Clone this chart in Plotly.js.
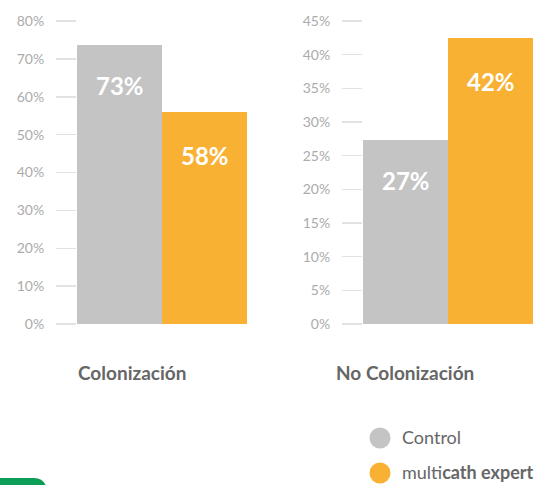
<!DOCTYPE html>
<html>
<head>
<meta charset="utf-8">
<script src="https://cdn.plot.ly/plotly-3.0.1.min.js"></script>
<style>html,body{margin:0;padding:0;background:#fff;}#chart{width:552px;height:485px;}</style>
</head>
<body>
<div id="chart"></div>
<script>
// Data
const groups = ["Colonización", "No Colonización"];
const seriesNames = ["Control", "multi<b>cath expert</b>"];
const controlValues = [73.7, 27.4];
const expertValues = [56.0, 42.5];
const controlLabels = ["73%", "27%"];
const expertLabels = ["58%", "42%"];
const leftTicks = [0, 10, 20, 30, 40, 50, 60, 70, 80];
const leftTickText = ["0%", "10%", "20%", "30%", "40%", "50%", "60%", "70%", "80%"];
const rightTicks = [0, 5, 10, 15, 20, 25, 30, 35, 40, 45];
const rightTickText = ["0%", "5%", "10%", "15%", "20%", "25%", "30%", "35%", "40%", "45%"];

const grey = "#c4c4c4";
const orange = "#f8b133";
const seriesColors = [grey, orange];
const FONT = "Lato, 'Open Sans', sans-serif";

const W = 552, H = 485, MT = 21, MB = 161;
const plotH = H - MT - MB;
const px2x = px => px / W;
const py2y = py => (H - MB - py) / plotH;

const axesX = ["x", "x2"];
const axesY = ["y", "y2"];

const traces = [];
groups.forEach((g, i) => {
  traces.push({
    type: "bar", x: [g], y: [controlValues[i]], xaxis: axesX[i], yaxis: axesY[i],
    marker: {color: grey}, name: seriesNames[0], showlegend: false, hoverinfo: "skip"
  });
  traces.push({
    type: "bar", x: [g], y: [expertValues[i]], xaxis: axesX[i], yaxis: axesY[i],
    marker: {color: orange}, name: seriesNames[1], showlegend: false, hoverinfo: "skip"
  });
});

const annotations = [];
groups.forEach((g, i) => {
  annotations.push({xref: axesX[i], yref: axesY[i], x: g, y: controlValues[i], xshift: -42.5, yshift: -41,
    text: "<b>" + controlLabels[i] + "</b>", showarrow: false, yanchor: "middle",
    font: {family: FONT, size: 24, color: "#ffffff"}});
  annotations.push({xref: axesX[i], yref: axesY[i], x: g, y: expertValues[i], xshift: 42.5, yshift: -44,
    text: "<b>" + expertLabels[i] + "</b>", showarrow: false, yanchor: "middle",
    font: {family: FONT, size: 24, color: "#ffffff"}});
  annotations.push({xref: axesX[i], yref: "paper", x: g, y: py2y(372), xshift: -30 - (i === 1 ? 13 : 0),
    text: "<b>" + g + "</b>", showarrow: false, yanchor: "middle",
    font: {family: FONT, size: 19, color: "#666666"}});
});

// Manual legend (circle markers + text)
const shapes = [];
const legendY = [438, 473];
seriesNames.forEach((n, k) => {
  const cy = legendY[k];
  shapes.push({type: "circle", xref: "paper", yref: "paper",
    x0: px2x(369.5), x1: px2x(390.5), y0: py2y(cy + 10.5), y1: py2y(cy - 10.5),
    fillcolor: seriesColors[k], line: {width: 0}});
  annotations.push({xref: "paper", yref: "paper", x: px2x(401), y: py2y(cy - 1), xanchor: "left", yanchor: "middle",
    borderpad: 0,
    text: n, showarrow: false, font: {family: FONT, size: 18, color: "#666666"}});
});
// green tab partially visible at bottom left
shapes.push({type: "path", xref: "paper", yref: "paper",
  path: "M 0 " + py2y(486) + " L 0 " + py2y(478) + " L " + px2x(34) + " " + py2y(478) +
        " Q " + px2x(43) + " " + py2y(478) + " " + px2x(46) + " " + py2y(486) + " Z",
  fillcolor: "#0c9d56", line: {width: 0}});

const yaxisBase = {
  showgrid: false, zeroline: false, showline: false,
  ticks: "outside", ticklen: 20, tickcolor: "#e2e2e2", tickwidth: 1.5,
  ticklabelstandoff: 9,
  tickfont: {family: FONT, size: 14, color: "#ababab"},
  fixedrange: true
};
const xaxisBase = {showgrid: false, zeroline: false, showline: false, showticklabels: false, ticks: "",
  fixedrange: true, range: [-0.5, 0.5], autorange: false};

const layout = {
  width: W, height: H,
  margin: {l: 0, r: 0, t: MT, b: MB, autoexpand: false},
  paper_bgcolor: "#ffffff", plot_bgcolor: "#ffffff",
  barmode: "group", bargap: 0, bargroupgap: 0,
  font: {family: FONT, color: "#666666"},
  xaxis: Object.assign({}, xaxisBase, {domain: [77/W, 247/W], anchor: "y"}),
  xaxis2: Object.assign({}, xaxisBase, {domain: [363/W, 533/W], anchor: "y2"}),
  yaxis: Object.assign({}, yaxisBase, {range: [0, 80], tickvals: leftTicks, ticktext: leftTickText, anchor: "x"}),
  yaxis2: Object.assign({}, yaxisBase, {range: [0, 45], tickvals: rightTicks, ticktext: rightTickText, anchor: "x2"}),
  showlegend: false,
  annotations: annotations,
  shapes: shapes
};

Plotly.newPlot("chart", traces, layout, {displayModeBar: false, staticPlot: true});
</script>
</body>
</html>
